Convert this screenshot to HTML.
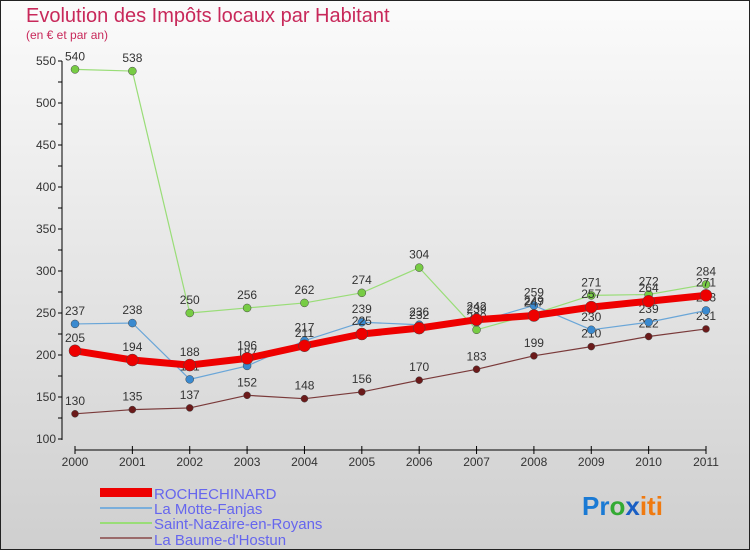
<!DOCTYPE html>
<html><head><meta charset="utf-8"><style>
body{margin:0}
#c{width:750px;height:550px;position:relative;overflow:hidden}
text{font-family:"Liberation Sans",sans-serif}
</style></head><body>
<div id="c">
<svg id="s" width="750" height="550" xmlns="http://www.w3.org/2000/svg">
<defs><linearGradient id="bg" x1="0" y1="0" x2="0" y2="1"><stop offset="0" stop-color="#fbfbfb"/><stop offset="1" stop-color="#cfcfcf"/></linearGradient></defs>
<rect x="0.5" y="0.5" width="749" height="549" fill="url(#bg)" stroke="#222"/>
<text x="26" y="22" font-size="20" fill="#c8285a">Evolution des Impôts locaux par Habitant</text>
<text x="26" y="39" font-size="12" fill="#c8285a">(en € et par an)</text>
<g id="axes"></g><g id="series"></g>
<g>
<rect x="100" y="488" width="52" height="9" fill="#e00"/>
<text x="154" y="499" font-size="15" fill="#6666ee">ROCHECHINARD</text>
<line x1="100" y1="508" x2="152" y2="508" stroke="#7aaedb" stroke-width="2"/>
<text x="154" y="514" font-size="15" fill="#6666ee">La Motte-Fanjas</text>
<line x1="100" y1="523" x2="152" y2="523" stroke="#99dd77" stroke-width="2"/>
<text x="154" y="529" font-size="15" fill="#6666ee">Saint-Nazaire-en-Royans</text>
<line x1="100" y1="538" x2="152" y2="538" stroke="#9a6a6a" stroke-width="2"/>
<text x="154" y="545" font-size="15" fill="#6666ee">La Baume-d'Hostun</text>
</g>
<text x="582" y="515" font-size="26" font-weight="bold"><tspan fill="#1a7ad4">Pr</tspan><tspan fill="#33aa33">o</tspan><tspan fill="#1a5fc4">x</tspan><tspan fill="#f07a10">iti</tspan></text>
</svg></div>
<script>
const years=[2000,2001,2002,2003,2004,2005,2006,2007,2008,2009,2010,2011];
const yTicks=[100,150,200,250,300,350,400,450,500,550];
const roch=[205,194,188,196,211,225,232,242,247,257,264,271];
const motte=[237,238,171,187,217,239,236,239,259,230,239,253];
const saint=[540,538,250,256,262,274,304,230,249,271,272,284];
const baume=[130,135,137,152,148,156,170,183,199,210,222,231];
const NS="http://www.w3.org/2000/svg";
const x=i=>75+i*(706-75)/11;
const y=v=>439-(v-100)*(378/450);
function mk(t,a,p){const e=document.createElementNS(NS,t);for(const k in a)e.setAttribute(k,a[k]);p.appendChild(e);return e;}
const ax=document.getElementById('axes');
const yl=mk('line',{x1:62,y1:y(550),x2:62,y2:y(100)+1,stroke:'#000'},ax);


for(let v=100;v<=550;v+=25){const t=mk('line',{x1:58,x2:62,y1:y(v),y2:y(v),stroke:'#000'},ax);}
yTicks.forEach(v=>{const t=mk('text',{x:56,y:y(v)+4,'font-size':12,'text-anchor':'end',fill:'#333'},ax);t.textContent=v;

});
const xl=mk('line',{x1:75,y1:450,x2:706,y2:450,stroke:'#000'},ax);


years.forEach((yr,i)=>{mk('line',{x1:x(i),x2:x(i),y1:446,y2:454,stroke:'#000'},ax);
const t=mk('text',{x:x(i),y:466,'font-size':12,'text-anchor':'middle',fill:'#333'},ax);t.textContent=yr;

});
const sg=document.getElementById('series');
function draw(name,data,color,w,r,dot){
const g=mk('g',{},sg);


mk('polyline',{points:data.map((v,i)=>x(i)+','+y(v)).join(' '),fill:'none',stroke:color,'stroke-width':w,'stroke-linejoin':'round'},g);
data.forEach((v,i)=>{const c=mk('circle',{cx:x(i),cy:y(v),r:r,fill:dot,stroke:'#444','stroke-width':0.5},g);


const t=mk('text',{x:x(i),y:y(v)-9,'font-size':12,'text-anchor':'middle',fill:'#333'},g);t.textContent=v;

});
}
draw('baume',baume,'#7a3a3a',1.2,3.5,'#6b1a1a');
draw('saint-nazaire',saint,'#99dd77',1.2,4,'#77cc44');
draw('motte',motte,'#6aa6d8',1.2,4,'#3a8ad0');
draw('rochechinard',roch,'#ee0000',7,6,'#ee0000');
</script>
</body></html>
